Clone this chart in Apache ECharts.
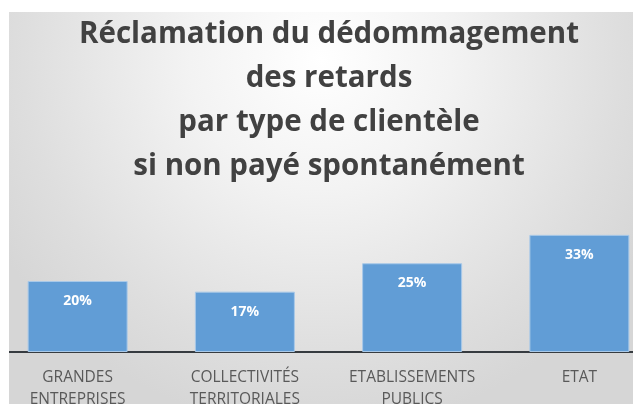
<!DOCTYPE html>
<html>
<head>
<meta charset="utf-8">
<script src="https://cdn.jsdelivr.net/npm/echarts@6/dist/echarts.min.js"></script>
<style>
  html, body { margin: 0; padding: 0; background: #ffffff; }
  #chart { width: 633px; height: 404px; }
</style>
</head>
<body>
<div id="chart"></div>
<script>
// données
const titleLines = [
  'Réclamation du dédommagement',
  'des retards',
  'par type de clientèle',
  'si non payé spontanément'
];
const categories = [
  'GRANDES\nENTREPRISES',
  'COLLECTIVITÉS\nTERRITORIALES',
  'ETABLISSEMENTS\nPUBLICS',
  'ETAT'
];
const values = [20, 17, 25, 33];

const myChart = echarts.init(document.getElementById('chart'));

const option = {
  backgroundColor: '#ffffff',
  graphic: [
    {
      type: 'rect',
      z: -10,
      silent: true,
      shape: { x: 9, y: 12, width: 624, height: 392 },
      style: {
        fill: {
          type: 'radial', x: 0.5, y: 0.12, r: 0.95,
          colorStops: [
            { offset: 0, color: '#ffffff' },
            { offset: 0.35, color: '#f3f3f3' },
            { offset: 0.8, color: '#dedede' },
            { offset: 1, color: '#d6d6d6' }
          ]
        }
      }
    },
    // marges blanches de la capture
    {
      type: 'rect', z: 100, silent: true,
      shape: { x: 0, y: 0, width: 9, height: 404 },
      style: { fill: '#ffffff' }
    },
    {
      type: 'rect', z: 100, silent: true,
      shape: { x: 0, y: 0, width: 633, height: 12 },
      style: { fill: '#ffffff' }
    }
  ],
  title: {
    text: titleLines.join('\n'),
    left: 324,
    textAlign: 'center',
    top: 8,
    textStyle: {
      fontFamily: 'Open Sans',
      fontWeight: 'bold',
      fontSize: 29.5,
      lineHeight: 44,
      color: '#414141'
    }
  },
  grid: {
    left: -6,
    right: -30,
    top: 210,
    bottom: 52,
    outerBoundsMode: 'none',
    containLabel: false
  },
  xAxis: {
    type: 'category',
    data: categories,
    axisLine: { lineStyle: { color: '#363b40', width: 2 } },
    axisTick: { show: false },
    axisLabel: {
      interval: 0,
      margin: 15,
      fontFamily: 'Open Sans',
      fontSize: 15.5,
      lineHeight: 22,
      color: '#595959'
    }
  },
  yAxis: {
    type: 'value',
    min: 0,
    max: 40,
    show: false,
    splitLine: { show: false }
  },
  series: [
    {
      type: 'bar',
      data: values,
      barWidth: 100,
      itemStyle: {
        color: '#619dd6',
        borderColor: '#a9c9e8',
        borderWidth: 1
      },
      label: {
        show: true,
        position: 'insideTop',
        distance: 13,
        formatter: '{c}%',
        color: '#ffffff',
        fontFamily: 'Open Sans',
        fontWeight: 'bold',
        fontSize: 14
      }
    }
  ]
};

myChart.setOption(option);
</script>
</body>
</html>
